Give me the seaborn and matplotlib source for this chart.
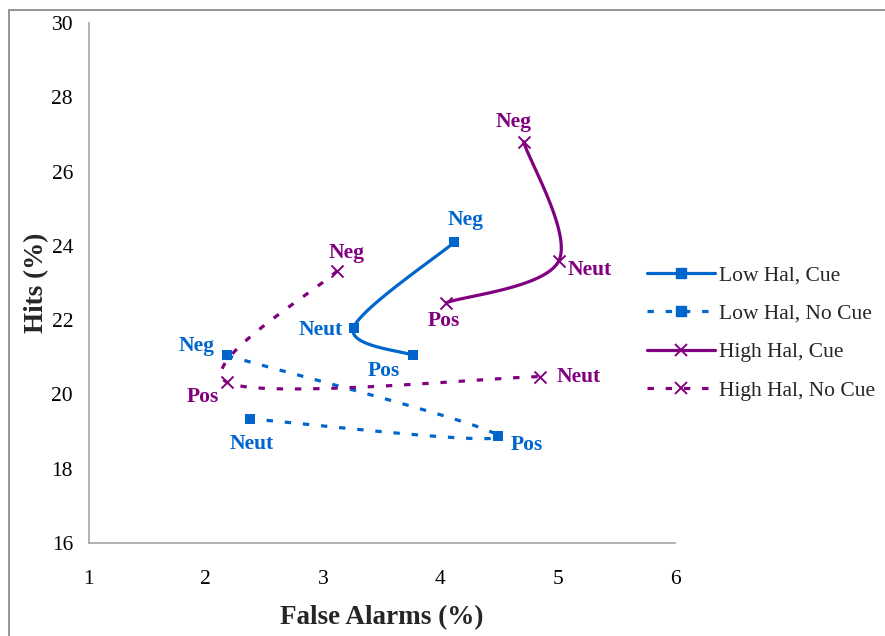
import numpy as np
import matplotlib
matplotlib.use("Agg")
import matplotlib.pyplot as plt
import seaborn as sns
from matplotlib.lines import Line2D
from matplotlib.patches import Rectangle

# ---- data: false alarms (%) and hits (%), listed in line-drawing order ----
low_cue_fa = [4.12, 3.26, 3.77]
low_cue_hits = [24.10, 21.80, 21.05]
low_cue_labels = ["Neg", "Neut", "Pos"]

low_nocue_fa = [2.18, 4.49, 2.38]
low_nocue_hits = [21.05, 18.88, 19.34]
low_nocue_labels = ["Neg", "Pos", "Neut"]

high_cue_fa = [4.71, 5.01, 4.05]
high_cue_hits = [26.80, 23.60, 22.47]
high_cue_labels = ["Neg", "Neut", "Pos"]

high_nocue_fa = [3.12, 2.18, 4.85]
high_nocue_hits = [23.33, 20.33, 20.48]
high_nocue_labels = ["Neg", "Pos", "Neut"]

series_names = ["Low Hal, Cue", "Low Hal, No Cue", "High Hal, Cue", "High Hal, No Cue"]
x_ticks = [1, 2, 3, 4, 5, 6]
y_ticks = [16, 18, 20, 22, 24, 26, 28, 30]

BLUE = "#0066cc"
PURPLE = "#800080"
DASH = (0, (2.0, 3.7))

sns.set_theme(style="white")
plt.rcParams["font.family"] = ["Liberation Serif", "DejaVu Serif"]


def smooth(xs, ys, n=60):
    """Bezier smoothing through the points (control arms = 1/6 of neighbour chord)."""
    P = np.column_stack([xs, ys]).astype(float)
    k = len(P)
    t = np.linspace(0, 1, n)[:, None]
    out = []
    for i in range(k - 1):
        p0, p3 = P[i], P[i + 1]
        prev = P[i - 1] if i > 0 else P[i]
        nxt = P[i + 2] if i + 2 < k else P[i + 1]
        c1 = p0 + (p3 - prev) / 6.0
        c2 = p3 - (nxt - p0) / 6.0
        seg = (1 - t) ** 3 * p0 + 3 * (1 - t) ** 2 * t * c1 + 3 * (1 - t) * t ** 2 * c2 + t ** 3 * p3
        out.append(seg if i == 0 else seg[1:])
    return np.vstack(out)


fig = plt.figure(figsize=(8.85, 6.36), dpi=100)
ax = fig.add_axes([0.1000, 0.1462, 0.6627, 0.8176])

series = [
    (low_cue_fa, low_cue_hits, low_cue_labels, BLUE, "-", "s"),
    (low_nocue_fa, low_nocue_hits, low_nocue_labels, BLUE, DASH, "s"),
    (high_cue_fa, high_cue_hits, high_cue_labels, PURPLE, "-", "x"),
    (high_nocue_fa, high_nocue_hits, high_nocue_labels, PURPLE, DASH, "x"),
]

for fa, hits, labs, col, ls, mk in series:
    curve = smooth(fa, hits)
    sns.lineplot(x=curve[:, 0], y=curve[:, 1], sort=False, estimator=None,
                 color=col, linewidth=2.3, linestyle=ls, ax=ax, zorder=2)
    if mk == "s":
        sns.scatterplot(x=fa, y=hits, marker="s", s=62, color=col,
                        edgecolor=col, linewidth=0, ax=ax, zorder=3)
    else:
        sns.scatterplot(x=fa, y=hits, marker="x", s=75, color=col,
                        linewidth=1.4, ax=ax, zorder=3)

# label offsets (points) for each condition of each series
offsets = [
    {"Neg": (8, 16), "Neut": (-24, -2), "Pos": (-21, -11)},
    {"Neg": (-22, 7), "Neut": (1, -18), "Pos": (21, -6.5)},
    {"Neg": (-7, 14.5), "Neut": (22, -7), "Pos": (-2, -13.5)},
    {"Neg": (7, 13), "Neut": (28, 0), "Pos": (-17, -11)},
]
for (fa, hits, labs, col, ls, mk), offs in zip(series, offsets):
    for x, y, lab in zip(fa, hits, labs):
        ax.annotate(lab, (x, y), xytext=offs[lab], textcoords="offset points",
                    ha="center", va="center", fontsize=15.5, fontweight="bold",
                    color=col)

ax.set_xlim(1, 6)
ax.set_ylim(16, 30)
ax.set_xticks(x_ticks)
ax.set_yticks(y_ticks)
for side in ["top", "right"]:
    ax.spines[side].set_visible(False)
for side in ["left", "bottom"]:
    ax.spines[side].set_color("#a6a6a6")
    ax.spines[side].set_linewidth(1.2)
ax.tick_params(axis="both", direction="out", length=4.6, width=1.2,
               color="#a6a6a6", labelsize=15.5, labelcolor="black")
ax.tick_params(axis="y", pad=6.5)
ax.tick_params(axis="x", pad=14.5)
ax.grid(False)

ax.set_xlabel("False Alarms (%)", fontsize=19.5, fontweight="bold", va="center")
ax.xaxis.set_label_coords(0.5, -0.144)
ax.set_ylabel("Hits (%)", fontsize=19.5, fontweight="bold", va="center")
ax.yaxis.set_label_coords(-0.088, 0.5)

handles = [
    Line2D([], [], color=BLUE, lw=2.3, ls="-", marker="s", ms=7.5, mec=BLUE),
    Line2D([], [], color=BLUE, lw=2.3, ls=DASH, marker="s", ms=7.5, mec=BLUE),
    Line2D([], [], color=PURPLE, lw=2.3, ls="-", marker="x", ms=8.5, mew=1.4),
    Line2D([], [], color=PURPLE, lw=2.3, ls=DASH, marker="x", ms=8.5, mew=1.4),
]
fig.legend(handles, series_names, loc="center left",
           bbox_to_anchor=(647 / 885, 1 - 333 / 636), frameon=False,
           fontsize=15.5, handlelength=3.15, handletextpad=0.2,
           labelspacing=0.85, borderpad=0, borderaxespad=0, numpoints=1)

# chart-area frame
fig.add_artist(Rectangle((9 / 885, -0.1), 1.2, 1.1 - 10 / 636,
                         transform=fig.transFigure, fill=False,
                         edgecolor="#8c8c8c", linewidth=1.3))

fig.savefig("out.png", dpi=100)
